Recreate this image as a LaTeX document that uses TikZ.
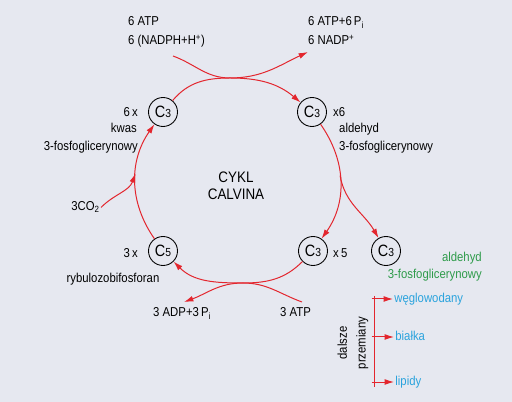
\documentclass[tikz,border=0pt]{standalone}
\usepackage{fontspec}
\setmainfont{Liberation Sans}[FakeStretch=0.88]
\usetikzlibrary{arrows.meta, positioning}

\definecolor{bgcol}{HTML}{E6E8F0}
\definecolor{cycred}{HTML}{E3262E}
\definecolor{prodgreen}{HTML}{2E9B4A}
\definecolor{prodblue}{HTML}{2AA3DD}

\tikzset{
    cc/.style={circle, draw=black, line width=0.75pt, minimum size=0.87cm, inner sep=0pt},
    rline/.style={cycred, line width=0.85pt},
    rarr/.style={rline, -{Latex[length=8pt,width=5pt]}},
    lbl/.style={inner sep=0pt, font=\fontsize{11}{16}\selectfont},
    big/.style={inner sep=0pt, font=\fontsize{13}{15}\selectfont},
}
\newcommand{\ctext}[1]{{\fontsize{14}{14}\selectfont C}{\fontsize{10}{10}\selectfont #1}}

\begin{document}
\begin{tikzpicture}[x=0.03cm, y=0.03cm]
    \fill[bgcol] (0,0) rectangle (512,402);
    \useasboundingbox (0,0) rectangle (512,402);

    \node[cc] (c3a) at (163,290) {\ctext{3}};
    \node[cc] (c3b) at (312,290) {\ctext{3}};
    \node[cc] (c5)  at (163,151) {\ctext{5}};
    \node[cc] (c3c) at (313,151) {\ctext{3}};
    \node[cc] (c3d) at (386,151) {\ctext{3}};

    \node[lbl, anchor=base west] (atp) at (128,376) {6 ATP};
    \node[lbl, anchor=base west] (nadph) at (128,357) {6 (NADPH+H\textsuperscript{+})};
    \node[lbl, anchor=base west] (atpo) at (308,376) {6 ATP+6\,P\textsubscript{i}};
    \node[lbl, anchor=base west] (nadp) at (308,357) {6 NADP\textsuperscript{+}};

    \node[lbl, anchor=base east] (n6x) at (138,285) {6\,x};
    \node[lbl, anchor=base east] (kwas) at (137,269) {kwas};
    \node[lbl, anchor=base east] (pga) at (138,251) {3-fosfoglicerynowy};
    \node[lbl, anchor=base west] (x6) at (333,285) {x6};
    \node[lbl, anchor=base west] (ald) at (339,269) {aldehyd};
    \node[lbl, anchor=base west] (pgal) at (339,251) {3-fosfoglicerynowy};

    \node[big, anchor=base] (cykl) at (236,219) {CYKL};
    \node[big, anchor=base] (calv) at (236,202) {CALVINA};

    \node[lbl, anchor=base east, inner sep=1pt] (co2) at (101,191) {3CO\textsubscript{2}};
    \node[lbl, anchor=base east] (n3x) at (138,144) {3\,x};
    \node[lbl, anchor=base] (rubp) at (113,119) {rybulozobifosforan};
    \node[lbl, anchor=base west] (x5) at (333,144) {x\,5};

    \node[lbl, anchor=base east, prodgreen] (gald) at (482,140) {aldehyd};
    \node[lbl, anchor=base east, prodgreen] (gpga) at (482,123) {3-fosfoglicerynowy};

    \node[lbl, anchor=base west] (adp) at (153,85) {3 ADP+3\,P\textsubscript{i}};
    \node[lbl, anchor=base west] (atpb) at (280,85) {3 ATP};

    \coordinate (xt) at (230,324);
    \coordinate (xb) at (243,119);
    \coordinate (topin) at (173,346);
    \coordinate (topout) at (308,350);
    \coordinate (botin) at (302,100);
    \coordinate (botout) at (184,100);

    \draw[rarr] (c3a) to[out=50,in=180] (xt) to[out=0,in=205] (topout);
    \draw[rarr] (topin) to[out=-20,in=180] (xt) to[out=0,in=140] (c3b);
    \draw[rarr] (c3c) to[out=-135,in=0] (xb) to[out=180,in=20] (botout);
    \draw[rarr] (botin) to[out=160,in=0] (xb) to[out=180,in=-45] (c5);

    \draw[rarr] (c5) to[out=125,in=235] coordinate[pos=0.57] (join) (c3a);
    \draw[rarr] (c3b) to[out=-55,in=55] coordinate[pos=0.45] (fork) (c3c);
    \draw[rarr] (co2.east) to[out=45,in=250] (join);
    \draw[rarr] (fork) to[out=-80,in=120] (c3d);

    \node[lbl, anchor=mid west, inner sep=1pt, prodblue] (weg) at (393,103) {węglowodany};
    \node[lbl, anchor=mid west, inner sep=1pt, prodblue] (bia) at (394,65) {białka};
    \node[lbl, anchor=mid west, inner sep=1pt, prodblue] (lip) at (394,20) {lipidy};
    \node[lbl, rotate=90, align=center] (dal) at (353,59) {dalsze\\przemiany};

    \coordinate (bt) at (374,106);
    \coordinate (bb) at (374,15);
    \draw[rline] (bt) -- (bb);
    \draw[rarr] ([xshift=-2]bt |- weg.mid west) -- (weg.mid west);
    \draw[rarr] ([xshift=-2]bt |- bia.mid west) -- (bia.mid west);
    \draw[rarr] ([xshift=-2]bt |- lip.mid west) -- (lip.mid west);
\end{tikzpicture}
\end{document}
